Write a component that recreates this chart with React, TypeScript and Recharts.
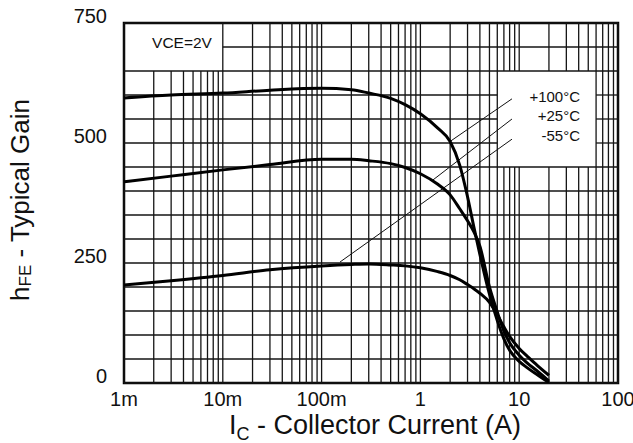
import React from 'react';
import { LineChart, Line, XAxis, YAxis, ReferenceArea, ReferenceLine } from 'recharts';

// Collector current (A)
const current = [0.001, 0.003, 0.01, 0.03, 0.1, 0.2, 0.3, 0.5, 0.7, 1, 1.5, 2, 2.5, 3, 3.5, 4, 5, 6, 7, 8, 10, 12, 15, 20];
// hFE at +100°C
const hfe100 = [594, 600, 604, 610, 614, 611, 604, 593, 580, 561, 531, 503, 454, 388, 322, 268, 185, 130, 92, 68, 45, 32, 18, 1];
// hFE at +25°C
const hfe25 = [419, 431, 444, 455, 466, 466, 463, 457, 449, 436, 414, 392, 363, 338, 314, 285, 200, 148, 108, 84, 58, 42, 26, 4];
// hFE at -55°C
const hfeM55 = [204, 213, 224, 236, 244, 247, 248, 246, 244, 240, 232, 224, 215, 205, 196, 187, 168, 142, 117, 97, 72, 56, 38, 16];

const xTicks = [0.001, 0.01, 0.1, 1, 10, 100];
const xTickLabels = ['1m', '10m', '100m', '1', '10', '100'];
const yTicks = [0, 250, 500, 750];

const decades = [0.001, 0.01, 0.1, 1, 10];
const mults = [1, 2, 3, 4, 5, 6, 7, 8, 9];
const gridX = [...decades.flatMap((d) => mults.map((m) => +(d * m).toPrecision(3))), 100];
const gridY = Array.from({ length: 16 }, (_, i) => i * 50);

const tempLabels = ['+100°C', '+25°C', '-55°C'];
const leaderStartX = [8.45, 8.45, 8.45];
const leaderStartY = [592, 550, 508];
const leaderEndX = [1.99, 1.34, 0.1535];
const leaderEndY = [503, 423, 252];

const X_MIN = 0.001, X_MAX = 100, Y_MIN = 0, Y_MAX = 750;
const vceBox = { x1: 0.001, x2: 0.01, y1: 650, y2: 750 };
const legendBox = { x1: 6, x2: 60, y1: 450, y2: 650 };

const data = current.map((c, i) => ({ ic: c, t100: hfe100[i], t25: hfe25[i], tm55: hfeM55[i] }));

type Seg = [{ x: number; y: number }, { x: number; y: number }];

// grid segments, leaving the inside of the two label boxes blank
const verticalSegs = (v: number): Seg[] => {
  if (v > vceBox.x1 && v < vceBox.x2) return [[{ x: v, y: Y_MIN }, { x: v, y: vceBox.y1 }]];
  if (v > legendBox.x1 && v < legendBox.x2)
    return [
      [{ x: v, y: Y_MIN }, { x: v, y: legendBox.y1 }],
      [{ x: v, y: legendBox.y2 }, { x: v, y: Y_MAX }],
    ];
  return [[{ x: v, y: Y_MIN }, { x: v, y: Y_MAX }]];
};
const horizontalSegs = (v: number): Seg[] => {
  if (v > vceBox.y1 && v < vceBox.y2) return [[{ x: vceBox.x2, y: v }, { x: X_MAX, y: v }]];
  if (v > legendBox.y1 && v < legendBox.y2)
    return [
      [{ x: X_MIN, y: v }, { x: legendBox.x1, y: v }],
      [{ x: legendBox.x2, y: v }, { x: X_MAX, y: v }],
    ];
  return [[{ x: X_MIN, y: v }, { x: X_MAX, y: v }]];
};

const FONT = '"Liberation Sans", Arial, Helvetica, sans-serif';
const GRID = '#151515';

const XTick = (p: any) => {
  const idx = xTicks.indexOf(p.payload.value);
  return (
    <text x={p.x} y={406} textAnchor="middle" fontSize={20} fontFamily={FONT} fill="#111">
      {xTickLabels[idx] ?? String(p.payload.value)}
    </text>
  );
};

const YTick = (p: any) => (
  <text x={107} y={p.y} textAnchor="end" fontSize={20} fontFamily={FONT} fill="#111">
    {p.payload.value}
  </text>
);

export default function App() {
  return (
    <div style={{ position: 'relative', width: 633, height: 443, background: '#fff' }}>
      <style>{'body{margin:0;background:#fff}'}</style>
      <LineChart width={633} height={443} data={data} margin={{ top: 23, right: 15, bottom: 0, left: 0 }}>
        <XAxis
          dataKey="ic"
          type="number"
          scale="log"
          domain={[X_MIN, X_MAX]}
          ticks={xTicks}
          allowDataOverflow
          height={60}
          axisLine={false}
          tickLine={false}
          tick={XTick}
        />
        <YAxis
          type="number"
          domain={[Y_MIN, Y_MAX]}
          ticks={yTicks}
          allowDataOverflow
          width={124}
          axisLine={false}
          tickLine={false}
          tick={YTick}
        />
        {gridX.flatMap((v) =>
          verticalSegs(v).map((s, j) => (
            <ReferenceLine key={'gx' + v + '_' + j} segment={s} stroke={GRID} strokeWidth={1.3} />
          ))
        )}
        {gridY.flatMap((v) =>
          horizontalSegs(v).map((s, j) => (
            <ReferenceLine key={'gy' + v + '_' + j} segment={s} stroke={GRID} strokeWidth={1.3} />
          ))
        )}
        {leaderStartX.map((sx, i) => (
          <ReferenceLine
            key={'ld' + i}
            segment={[{ x: sx, y: leaderStartY[i] }, { x: leaderEndX[i], y: leaderEndY[i] }]}
            stroke="#111"
            strokeWidth={1}
          />
        ))}
        <Line type="monotone" dataKey="t100" stroke="#000" strokeWidth={3} dot={false} isAnimationActive={false} />
        <Line type="monotone" dataKey="t25" stroke="#000" strokeWidth={3} dot={false} isAnimationActive={false} />
        <Line type="monotone" dataKey="tm55" stroke="#000" strokeWidth={3} dot={false} isAnimationActive={false} />
        <ReferenceArea x1={X_MIN} x2={X_MAX} y1={Y_MIN} y2={Y_MAX} fill="none" stroke="#000" strokeWidth={2.5} />
      </LineChart>
      <svg width={633} height={443} style={{ position: 'absolute', left: 0, top: 0, pointerEvents: 'none' }}>
        <text x={182} y={47.5} textAnchor="middle" fontSize={15.5} fontFamily={FONT} fill="#111">VCE=2V</text>
        {tempLabels.map((t, i) => (
          <text key={t} x={580} y={101.5 + i * 19.7} textAnchor="end" fontSize={15} fontFamily={FONT} fill="#111">{t}</text>
        ))}
        <text x={375} y={434} textAnchor="middle" fontSize={27} fontFamily={FONT} fill="#111">
          I<tspan fontSize={18} dy={6}>C</tspan><tspan dy={-6}> - Collector Current (A)</tspan>
        </text>
        <text x={29} y={200} transform="rotate(-90 29 200)" textAnchor="middle" fontSize={26} fontFamily={FONT} fill="#111">
          h<tspan fontSize={17} dy={2}>FE</tspan><tspan dy={-2}> - Typical Gain</tspan>
        </text>
      </svg>
    </div>
  );
}
